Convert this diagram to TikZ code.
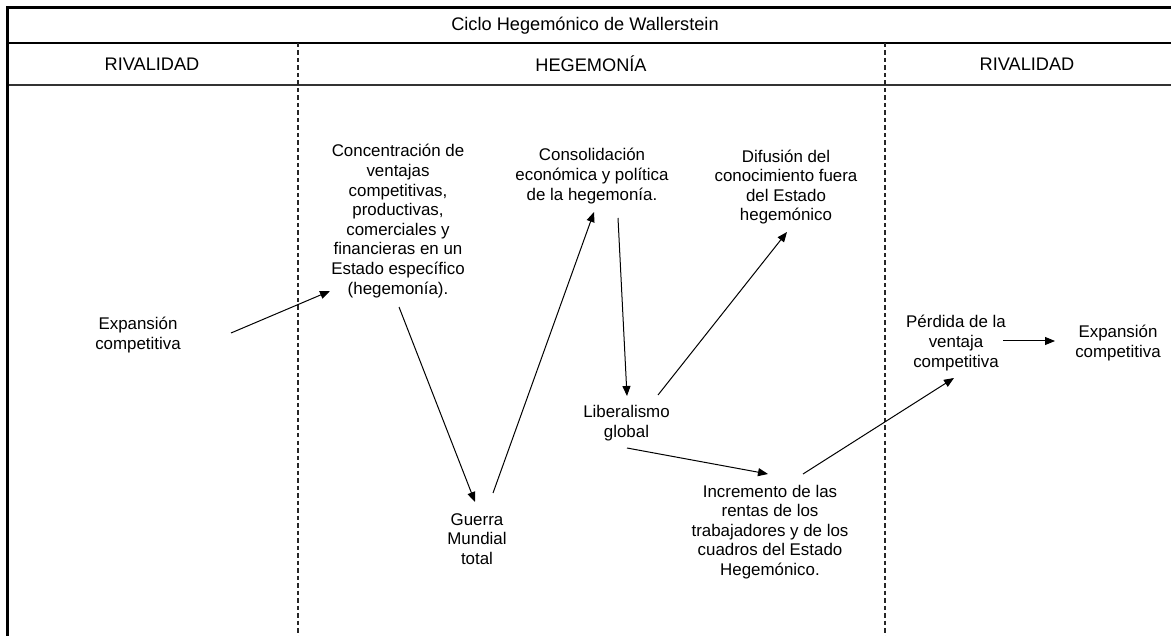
\documentclass[tikz,border=0pt]{standalone}
\usepackage{fontspec}
\setmainfont{Liberation Sans}
\usetikzlibrary{calc,arrows.meta}
\begin{document}
\begin{tikzpicture}[x=1pt,y=-1pt,
  txt/.style={align=center,inner sep=0pt,font=\fontsize{16.9}{19.6}\selectfont},
  hdr/.style={align=center,inner sep=0pt,font=\fontsize{18.2}{21}\selectfont},
  arr/.style={line width=1pt,-{Triangle[length=10pt,width=8pt]}},
  sep/.style={line width=1.1pt,dash pattern=on 4.5pt off 3pt,black!85},
  rule/.style={line width=1.4pt}]
\useasboundingbox (0,0) rectangle (1171,636);
% frame
\draw[line width=3.5pt] (7.5,636) -- (7.5,7.5) -- (1171,7.5);
\draw[rule] (9,43) -- (1171,43);
\draw[rule,black!80] (9,85) -- (1171,85);
\draw[sep] (298,43) -- (298,636);
\draw[sep] (885,43) -- (885,636);
% headers
\node[hdr] (title) at (585,26) {Ciclo Hegemónico de Wallerstein};
\node[hdr] (rivL) at (152,64) {RIVALIDAD};
\node[hdr] (hege) at (591,64) {HEGEMONÍA};
\node[hdr] (rivR) at (1027,64) {RIVALIDAD};
% content nodes
\node[txt] (expL) at (138,335) {Expansión\\competitiva};
\node[txt] (conc) at (398,221) {Concentración de\\ventajas\\competitivas,\\productivas,\\comerciales y\\financieras en un\\Estado específico\\(hegemonía).};
\node[txt] (cons) at (592,176) {Consolidación\\económica y política\\de la hegemonía.};
\node[txt] (difu) at (786,187) {Difusión del\\conocimiento fuera\\del Estado\\hegemónico};
\node[txt] (lib) at (626.5,423) {Liberalismo\\global};
\node[txt] (guer) at (477,539) {Guerra\\Mundial\\total};
\node[txt] (incr) at (770,532) {Incremento de las\\rentas de los\\trabajadores y de los\\cuadros del Estado\\Hegemónico.};
\node[txt] (perd) at (956,343) {Pérdida de la\\ventaja\\competitiva};
\node[txt] (expR) at (1118,343) {Expansión\\competitiva};
% arrows
\draw[arr] ($(expL)+(93,-2)$) -- ($(conc)+(-68,70)$);
\draw[arr] ($(conc)+(1,86)$) -- ($(guer)+(-2,-37)$);
\draw[arr] ($(guer)+(16,-46)$) -- ($(cons)+(2,36)$);
\draw[arr] ($(cons)+(26,42)$) -- ($(lib)+(0.5,-27)$);
\draw[arr] ($(lib)+(31.5,-28)$) -- ($(difu)+(1,45)$);
\draw[arr] ($(lib)+(0.5,25)$) -- ($(incr)+(-2,-58)$);
\draw[arr] ($(incr)+(33,-58)$) -- ($(perd)+(-2,35)$);
\draw[arr] ($(perd)+(47,-2)$) -- ($(expR)+(-63,-2)$);
\end{tikzpicture}
\end{document}
